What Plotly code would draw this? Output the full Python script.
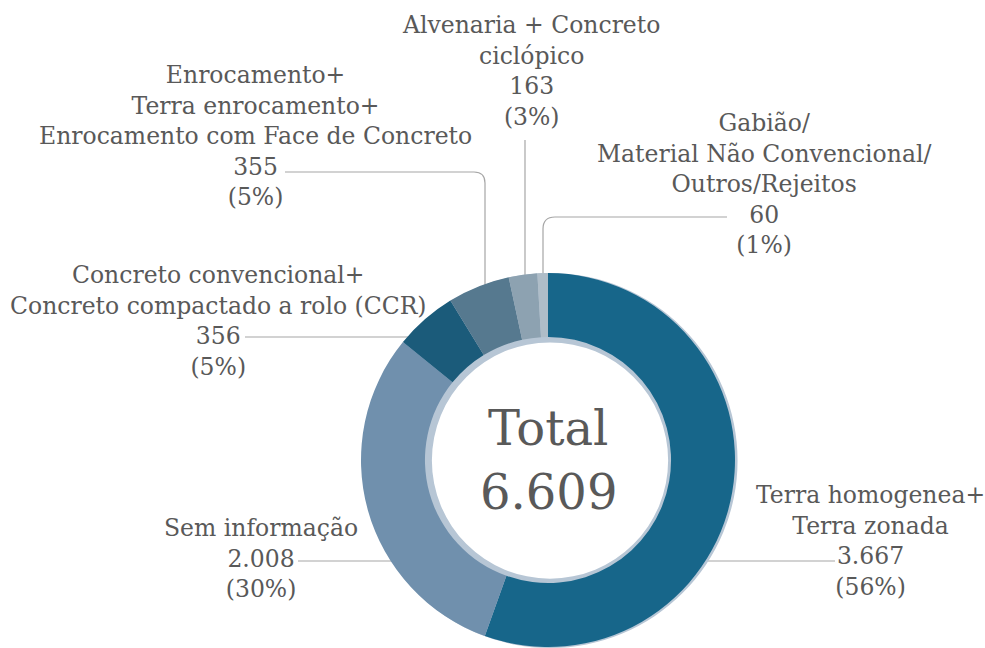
import plotly.graph_objects as go

categories = [
    "Terra homogenea+<br>Terra zonada",
    "Sem informação",
    "Concreto convencional+<br>Concreto compactado a rolo (CCR)",
    "Enrocamento+<br>Terra enrocamento+<br>Enrocamento com Face de Concreto",
    "Alvenaria + Concreto<br>ciclópico",
    "Gabião/<br>Material Não Convencional/<br>Outros/Rejeitos",
]
values = [3667, 2008, 356, 355, 163, 60]
value_labels = ["3.667", "2.008", "356", "355", "163", "60"]
pct_labels = ["56%", "30%", "5%", "5%", "3%", "1%"]
total_label = "6.609"
colors = ["#17668A", "#7090AD", "#1B5B7A", "#56798F", "#8DA2B1", "#AFBDC8"]

W, H = 985, 648
cx, cy, R = 548, 460, 187
hole = 0.658

# label block centres (pixels) and leader line paths
label_pos = [(870, 541), (261, 558), (218, 321), (255, 136), (531, 71), (764, 184)]
leader_paths = [
    "M 706 561 L 835 561",
    "M 298 561 L 392 561",
    "M 245 337 L 408 337",
    "M 285 172 L 474 172 Q 485 172 485 183 L 485 288",
    "M 525 140 L 525 278",
    "M 727 217 L 555 217 Q 543 217 543 229 L 543 276",
]

FONT = "DejaVu Serif"
GREY = "#595959"

def dom(cxp, cyp, r):
    y0 = max(0.0, (H - cyp - r) / H)
    return dict(x=[(cxp - r) / W, (cxp + r) / W], y=[y0, (H - cyp + r) / H])

fig = go.Figure()
# shadow ring
fig.add_trace(go.Pie(
    values=[1], labels=["shadow"], hole=0.63, sort=False,
    marker=dict(colors=["#B7C6D5"], line=dict(width=0)),
    textinfo="none", hoverinfo="skip", showlegend=False,
    domain=dom(cx + 2, cy + 1, R + 1),
))
fig.add_trace(go.Pie(
    values=values, labels=categories, hole=hole, sort=False, direction="clockwise",
    marker=dict(colors=colors, line=dict(width=0)),
    textinfo="none", showlegend=False,
    domain=dom(cx, cy, R),
))

# invisible pixel axes
fig.add_trace(go.Scatter(x=[None], y=[None], showlegend=False))
fig.update_xaxes(range=[0, W], visible=False, fixedrange=True)
fig.update_yaxes(range=[H, 0], visible=False, fixedrange=True)

shapes = []
for p in leader_paths:
    shapes.append(dict(type="path", path=p, xref="x", yref="y",
                       line=dict(color="#A6A6A6", width=1.2), layer="below"))

annotations = []
for cat, v, pc, (lx, ly) in zip(categories, value_labels, pct_labels, label_pos):
    annotations.append(dict(
        x=lx, y=ly, xref="x", yref="y", showarrow=False,
        text=f"{cat}<br>{v}<br>({pc})", align="center",
        xanchor="center", yanchor="middle",
        font=dict(family=FONT, size=23.5, color=GREY),
    ))
annotations.append(dict(x=cx, y=428, xref="x", yref="y", showarrow=False, text="Total",
                        xanchor="center", yanchor="middle",
                        font=dict(family=FONT, size=48, color=GREY)))
annotations.append(dict(x=cx, y=492, xref="x", yref="y", showarrow=False, text=total_label,
                        xanchor="center", yanchor="middle",
                        font=dict(family=FONT, size=48, color=GREY)))

fig.update_layout(
    width=W, height=H, margin=dict(l=0, r=0, t=0, b=0),
    paper_bgcolor="white", plot_bgcolor="rgba(0,0,0,0)",
    shapes=shapes, annotations=annotations, showlegend=False,
)
fig.write_html("out.html", config={"displayModeBar": False},
               post_script="document.body.style.margin='0';")
